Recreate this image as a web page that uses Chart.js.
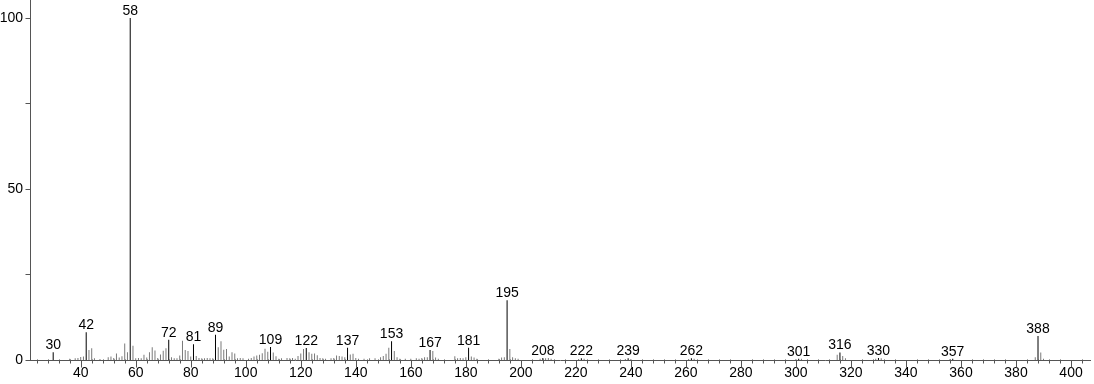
<!DOCTYPE html>
<html>
<head>
<meta charset="utf-8">
<script src="https://cdn.jsdelivr.net/npm/chart.js@4/dist/chart.umd.min.js"></script>
<style>
  html, body { margin: 0; padding: 0; background: #fff; }
  #wrap { width: 1094px; height: 384px; position: relative; }
</style>
</head>
<body>
<div id="wrap"><canvas id="c"></canvas></div>
<script>
// Labelled (black) peaks: m/z and relative intensity (%)
const labelledMz = [30, 42, 58, 72, 81, 89, 109, 122, 137, 153, 167, 181, 195, 208, 222, 239, 262, 301, 316, 330, 357, 388];
const labelledInt = [2.3, 8.1, 100, 5.9, 4.6, 7.4, 3.8, 3.5, 3.6, 5.5, 2.9, 3.6, 17.5, 0.6, 0.5, 0.5, 0.5, 0.4, 2.2, 0.6, 0.4, 7.0];

// Other (grey) peaks
const minorMz = [36, 38, 39, 40, 41, 43, 44, 45, 47, 50, 51, 52, 53, 54, 55, 56, 57, 59, 60, 61, 62, 63, 64, 65, 66, 67, 68, 69, 70, 71,
  73, 74, 75, 76, 77, 78, 79, 80, 82, 83, 84, 85, 86, 87, 88, 90, 91, 92, 93, 94, 95, 96, 97, 98, 99,
  101, 102, 103, 104, 105, 106, 107, 108, 110, 111, 112, 113, 115, 116, 117, 118, 119, 120, 121, 123, 124, 125, 126, 127, 128, 129,
  131, 132, 133, 134, 135, 136, 138, 139, 140, 141, 143, 145, 147, 149, 150, 151, 152, 154, 155, 156, 158, 160, 162, 163, 164, 165, 166,
  168, 169, 170, 176, 177, 178, 179, 180, 182, 183, 184, 192, 193, 194, 196, 197, 198, 199,
  207, 209, 210, 211, 221, 223, 238, 240, 261, 263, 300, 302, 315, 317, 318, 329, 331, 356, 387, 389, 390];
const minorInt = [0.4, 0.5, 0.6, 0.9, 1.0, 2.9, 3.4, 0.5, 0.3, 0.8, 1.0, 0.6, 1.9, 0.7, 1.1, 4.8, 2.3, 4.2, 0.5, 0.6, 0.5, 1.5, 0.7, 2.3, 3.7, 2.8, 0.6, 1.6, 2.7, 3.4,
  0.8, 0.5, 0.5, 1.3, 5.6, 2.9, 2.6, 1.0, 1.2, 0.6, 0.5, 0.5, 0.6, 0.5, 0.5, 3.7, 5.5, 3.0, 3.2, 1.0, 2.3, 1.9, 0.5, 0.6, 0.5,
  0.4, 0.6, 1.0, 1.3, 1.5, 2.0, 3.3, 2.4, 2.2, 1.1, 0.4, 0.5, 0.6, 0.5, 0.6, 0.4, 1.2, 1.9, 3.2, 2.3, 1.8, 1.9, 1.4, 0.6, 0.5, 0.4,
  0.5, 0.6, 1.3, 1.2, 1.0, 0.8, 1.6, 1.8, 0.6, 0.4, 0.4, 0.5, 0.5, 0.8, 1.2, 1.8, 3.6, 2.6, 0.8, 0.4, 0.4, 0.4, 0.5, 0.4, 0.6, 0.8, 0.8,
  2.6, 0.7, 0.4, 1.1, 0.5, 0.6, 0.5, 0.8, 1.0, 0.7, 0.4, 0.4, 0.7, 0.8, 3.2, 0.8, 0.5, 0.4,
  0.4, 0.5, 0.6, 0.4, 0.3, 0.4, 0.3, 0.3, 0.3, 0.4, 0.3, 0.4, 1.5, 1.2, 0.5, 0.4, 0.5, 0.3, 0.8, 2.2, 0.4];

// Axis settings
const xMin = 21.57, xMax = 406.9;
const yMin = 0, yMax = 105.26;
const xMajorStep = 20, xMinorStep = 4;
const yTickValues = [0, 25, 50, 75, 100];
const yLabelValues = [0, 50, 100];

const FONT = '"Liberation Sans", Arial, sans-serif';
const AXIS_COLOR = '#555';

const peakLabelPlugin = {
  id: 'peakLabels',
  afterDatasetsDraw(chart) {
    const ctx = chart.ctx;
    const xs = chart.scales.x, ys = chart.scales.y;
    ctx.save();
    ctx.font = '14px ' + FONT;
    ctx.fillStyle = '#000';
    ctx.textAlign = 'center';
    ctx.textBaseline = 'alphabetic';
    labelledMz.forEach((mz, i) => {
      const px = xs.getPixelForValue(mz);
      const py = ys.getPixelForValue(labelledInt[i]);
      ctx.fillText(String(mz), px, py - 3);
    });
    ctx.restore();
  }
};

const axisTickPlugin = {
  id: 'axisTicks',
  afterDraw(chart) {
    const ctx = chart.ctx;
    const xs = chart.scales.x, ys = chart.scales.y;
    const yAxis = Math.round(ys.getPixelForValue(0)) + 0.5;
    const xAxis = Math.round(xs.left) + 0.5;
    ctx.save();
    ctx.strokeStyle = AXIS_COLOR;
    ctx.lineWidth = 1;
    ctx.beginPath();
    const start = Math.ceil(xMin / xMinorStep) * xMinorStep;
    for (let v = start; v <= xMax; v += xMinorStep) {
      const px = Math.round(xs.getPixelForValue(v)) + 0.5;
      if (v % xMajorStep === 0) {
        ctx.moveTo(px, yAxis);
        ctx.lineTo(px, yAxis + 7);
      } else {
        ctx.moveTo(px, yAxis - 1);
        ctx.lineTo(px, yAxis + 3);
      }
    }
    yTickValues.forEach(v => {
      const py = Math.round(ys.getPixelForValue(v)) + 0.5;
      ctx.moveTo(xAxis - 5, py);
      ctx.lineTo(xAxis, py);
    });
    ctx.stroke();
    ctx.restore();
  }
};

const toPoints = (xsArr, ysArr) => xsArr.map((x, i) => ({ x: x, y: ysArr[i] }));

new Chart(document.getElementById('c'), {
  type: 'bar',
  data: {
    datasets: [
      {
        data: toPoints(minorMz, minorInt),
        backgroundColor: '#7a7a7a',
        barThickness: 1,
        inflateAmount: 0,
        grouped: false
      },
      {
        data: toPoints(labelledMz, labelledInt),
        backgroundColor: '#000',
        barThickness: 1,
        inflateAmount: 0,
        grouped: false
      }
    ]
  },
  options: {
    responsive: true,
    maintainAspectRatio: false,
    animation: false,
    layout: { padding: { top: 0, right: 4, bottom: 0, left: 0 } },
    plugins: { legend: { display: false }, tooltip: { enabled: false } },
    scales: {
      x: {
        type: 'linear',
        min: xMin,
        max: xMax,
        offset: false,
        grid: { display: false, drawTicks: false },
        border: { display: true, color: AXIS_COLOR, width: 1 },
        ticks: {
          stepSize: xMajorStep,
          includeBounds: false,
          autoSkip: false,
          maxRotation: 0,
          padding: 5,
          color: '#000',
          font: { family: FONT, size: 14 }
        },
        afterFit(scale) {
          scale.height = 24;
          scale.paddingLeft = 0;
          scale.paddingRight = 0;
        }
      },
      y: {
        min: yMin,
        max: yMax,
        grid: { display: false, drawTicks: false },
        border: { display: true, color: AXIS_COLOR, width: 1 },
        ticks: {
          stepSize: 25,
          includeBounds: false,
          autoSkip: false,
          padding: 7,
          color: '#000',
          font: { family: FONT, size: 14 },
          callback: (v) => yLabelValues.includes(v) ? String(v) : ''
        },
        afterFit(scale) {
          scale.width = 30;
          scale.paddingTop = 0;
          scale.paddingBottom = 0;
        }
      }
    }
  },
  plugins: [peakLabelPlugin, axisTickPlugin]
});
</script>
</body>
</html>
